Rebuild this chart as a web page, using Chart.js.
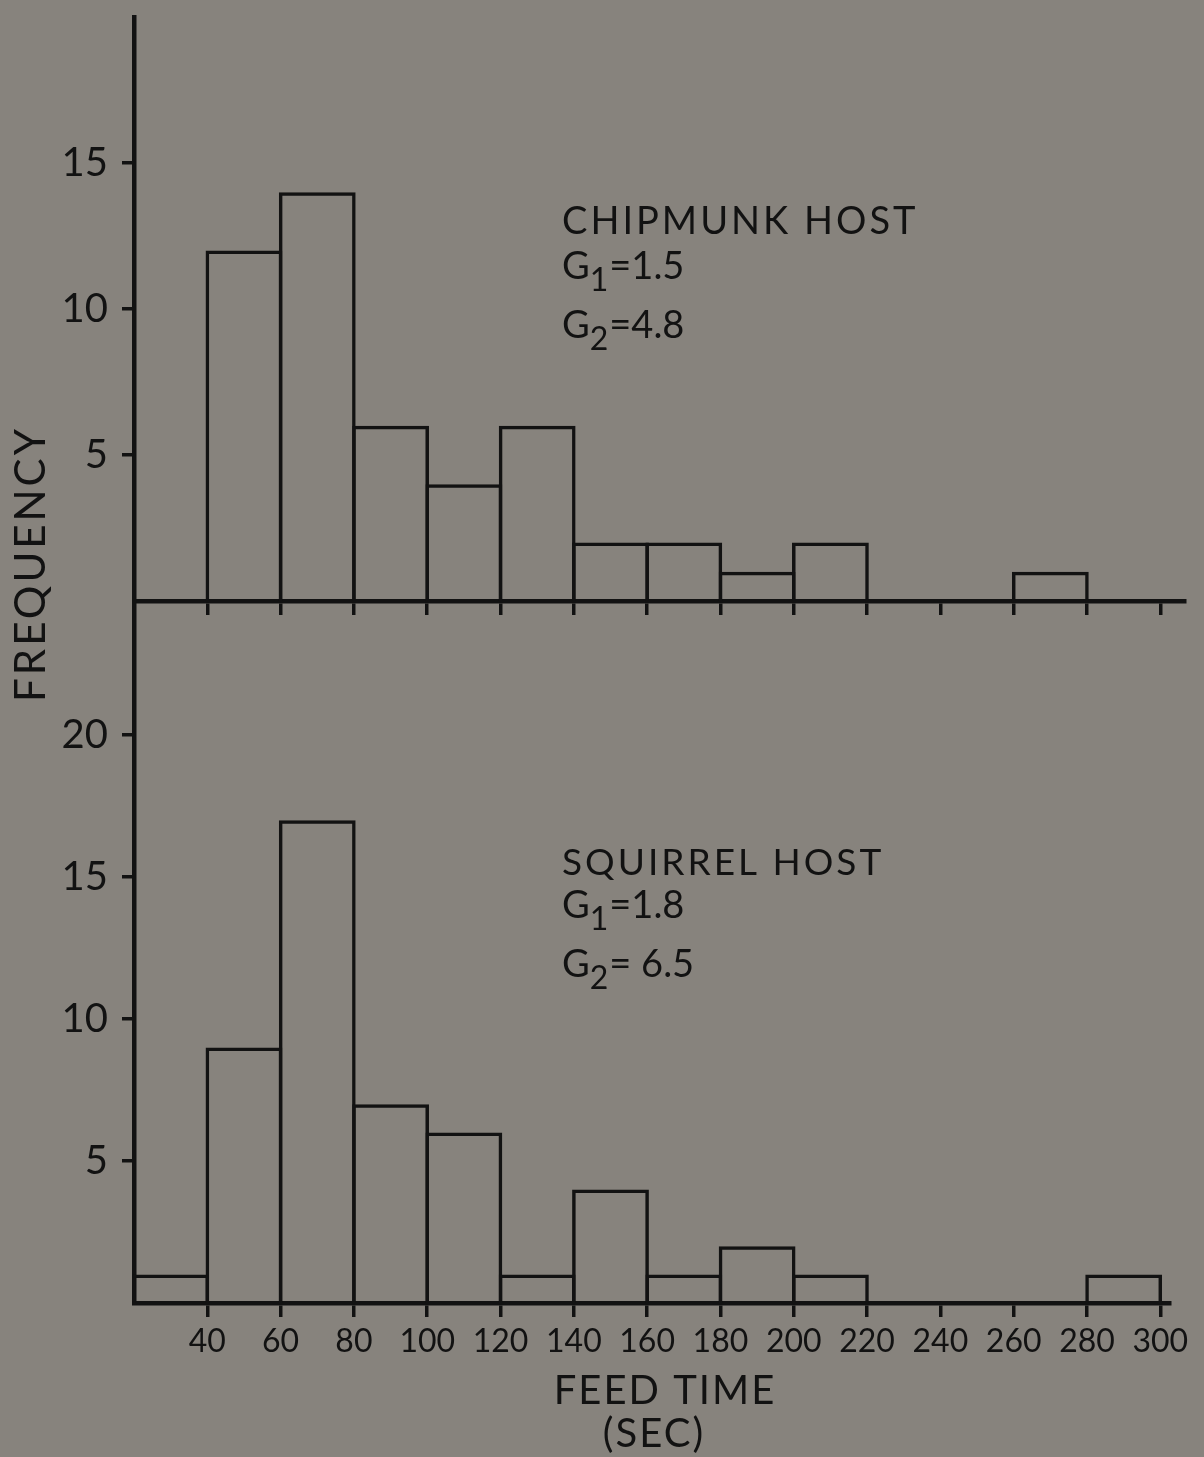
<!DOCTYPE html>
<html><head><meta charset="utf-8">
<script src="https://cdn.jsdelivr.net/npm/chart.js@4.4.1/dist/chart.umd.min.js"></script>
<style>
html,body{margin:0;padding:0;background:#87837d;}
#wrap{position:relative;width:1204px;height:1457px;overflow:hidden;background:#87837d;}
#topBox{position:absolute;left:0;top:0;width:1204px;height:720px;}
#botBox{position:absolute;left:0;top:590px;width:1204px;height:867px;}
</style></head><body>
<div id="wrap">
<div id="topBox"><canvas id="top"></canvas></div>
<div id="botBox"><canvas id="bot"></canvas></div>
</div>
<script>
// Data: 20-second bins of feed time (sec), starting at each value below
const binStarts = [20,40,60,80,100,120,140,160,180,200,220,240,260,280];
const chipmunkFreq = [0,12,14,6,4,6,2,2,1,2,0,0,1,0];
const squirrelFreq = [1,9,17,7,6,1,4,1,2,1,0,0,0,1];
const xTickValues = [40,60,80,100,120,140,160,180,200,220,240,260,280,300];
const topYTicks = [5,10,15];
const botYTicks = [5,10,15,20];
const xTitleLines = ['FEED TIME','(SEC)'];
const yTitle = 'FREQUENCY';
const chipmunkLabel = 'CHIPMUNK HOST';
const chipmunkG1 = '1.5';
const chipmunkG2 = '4.8';
const squirrelLabel = 'SQUIRREL HOST';
const squirrelG1 = '1.8';
const squirrelG2 = ' 6.5';

const INK = '#121212';
const FAMILY = 'Lato, "DejaVu Sans", sans-serif';
const PX_PER_SEC = (1160 - 207) / 260;
const BAR_LINE = 3.5;

const textLayer = {
  id: 'textLayer',
  afterDraw(chart, args, opts) {
    const ctx = chart.ctx;
    (opts.items || []).forEach(it => {
      ctx.save();
      ctx.fillStyle = INK;
      ctx.textBaseline = 'alphabetic';
      ctx.letterSpacing = (it.spacing || 0) + 'px';
      if (it.rotate) {
        ctx.translate(it.x, it.y);
        ctx.rotate(it.rotate);
        ctx.font = it.size + 'px ' + FAMILY;
        ctx.textAlign = 'center';
        ctx.fillText(it.text, 0, 0);
      } else if (it.parts) {
        let x = it.x;
        ctx.textAlign = 'left';
        it.parts.forEach(p => {
          const sz = p.sub ? it.subSize : it.size;
          ctx.font = sz + 'px ' + FAMILY;
          const y = it.y + (p.sub ? it.subDrop : 0);
          ctx.fillText(p.t, x, y);
          x += ctx.measureText(p.t).width + (p.gap || 0);
        });
      } else {
        ctx.font = it.size + 'px ' + FAMILY;
        ctx.textAlign = it.align || 'left';
        ctx.fillText(it.text, it.x, it.y);
      }
      ctx.restore();
    });
  }
};

function makeChart(id, freq, cfg) {
  const data = binStarts.map((s, i) => ({x: s + 10, y: freq[i]}));
  const binPx = 20 * PX_PER_SEC;
  return new Chart(document.getElementById(id), {
    type: 'bar',
    data: {datasets: [{
      data,
      backgroundColor: 'rgba(0,0,0,0)',
      borderColor: INK,
      borderWidth: BAR_LINE,
      borderSkipped: 'start',
      barPercentage: (binPx + BAR_LINE) / binPx,
      categoryPercentage: 1,
      clip: 4
    }]},
    plugins: [textLayer],
    options: {
      responsive: true,
      maintainAspectRatio: false,
      animation: false,
      events: [],
      layout: {padding: {top: cfg.padTop, right: cfg.padRight, left: 0, bottom: 0}},
      plugins: {
        legend: {display: false},
        tooltip: {enabled: false},
        textLayer: {items: cfg.items}
      },
      scales: {
        x: {
          type: 'linear',
          min: 20,
          max: cfg.xMax,
          offset: false,
          afterBuildTicks: s => { s.ticks = xTickValues.map(v => ({value: v})); },
          afterFit: s => { s.height = cfg.xHeight; s.paddingLeft = 0; s.paddingRight = 0; },
          grid: {offset: false, drawOnChartArea: false, drawTicks: true, tickLength: 14, color: INK, lineWidth: 3.5},
          border: {display: true, color: INK, width: 4.5},
          ticks: {display: cfg.showXLabels, color: INK, padding: 5, maxRotation: 0, autoSkip: false,
                  font: {family: FAMILY, size: 32}}
        },
        y: {
          type: 'linear',
          min: 0,
          max: cfg.yMax,
          afterBuildTicks: s => { s.ticks = cfg.yTicks.map(v => ({value: v})); },
          afterFit: s => { s.width = 134; s.paddingTop = 0; s.paddingBottom = 0; },
          grid: {offset: false, drawOnChartArea: false, drawTicks: true, tickLength: 12, color: INK, lineWidth: 3.5},
          border: {display: true, color: INK, width: 4.5},
          ticks: {color: INK, padding: 14, font: {family: FAMILY, size: 40}}
        }
      }
    }
  });
}

// top panel: chart area 17..601 px, x from 134 to 1185
makeChart('top', chipmunkFreq, {
  padTop: 17, padRight: 1204 - 1185, xHeight: 720 - 601,
  xMax: 20 + (1185 - 134) / PX_PER_SEC, yMax: 20, yTicks: topYTicks, showXLabels: false,
  items: [
    {text: chipmunkLabel, x: 562, y: 234, size: 38, spacing: 3},
    {parts: [{t: 'G'}, {t: '1', sub: true, gap: 1}, {t: '=' + chipmunkG1}], x: 562, y: 279, size: 38, subSize: 32, subDrop: 12, spacing: 0},
    {parts: [{t: 'G'}, {t: '2', sub: true, gap: 1}, {t: '=' + chipmunkG2}], x: 562, y: 338, size: 38, subSize: 32, subDrop: 12, spacing: 0},
    {text: yTitle, x: 45, y: 564, size: 42, spacing: 3, rotate: -Math.PI / 2}
  ]
});

// bottom panel: chart area 603..1303 px (page), x from 134 to 1170
makeChart('bot', squirrelFreq, {
  padTop: 13, padRight: 1204 - 1170, xHeight: 154,
  xMax: 20 + (1170 - 134) / PX_PER_SEC, yMax: (1303 - 603) / 28.4, yTicks: botYTicks, showXLabels: true,
  items: [
    {text: squirrelLabel, x: 562, y: 875 - 590, size: 37, spacing: 3},
    {parts: [{t: 'G'}, {t: '1', sub: true, gap: 1}, {t: '=' + squirrelG1}], x: 562, y: 918 - 590, size: 38, subSize: 32, subDrop: 12, spacing: 0},
    {parts: [{t: 'G'}, {t: '2', sub: true, gap: 1}, {t: '=' + squirrelG2}], x: 562, y: 977 - 590, size: 38, subSize: 32, subDrop: 12, spacing: 0},
    {text: xTitleLines[0], x: 665, y: 1404 - 590, size: 40, spacing: 2, align: 'center'},
    {text: xTitleLines[1], x: 654, y: 1447 - 590, size: 40, spacing: 2, align: 'center'}
  ]
});
</script>
</body></html>
